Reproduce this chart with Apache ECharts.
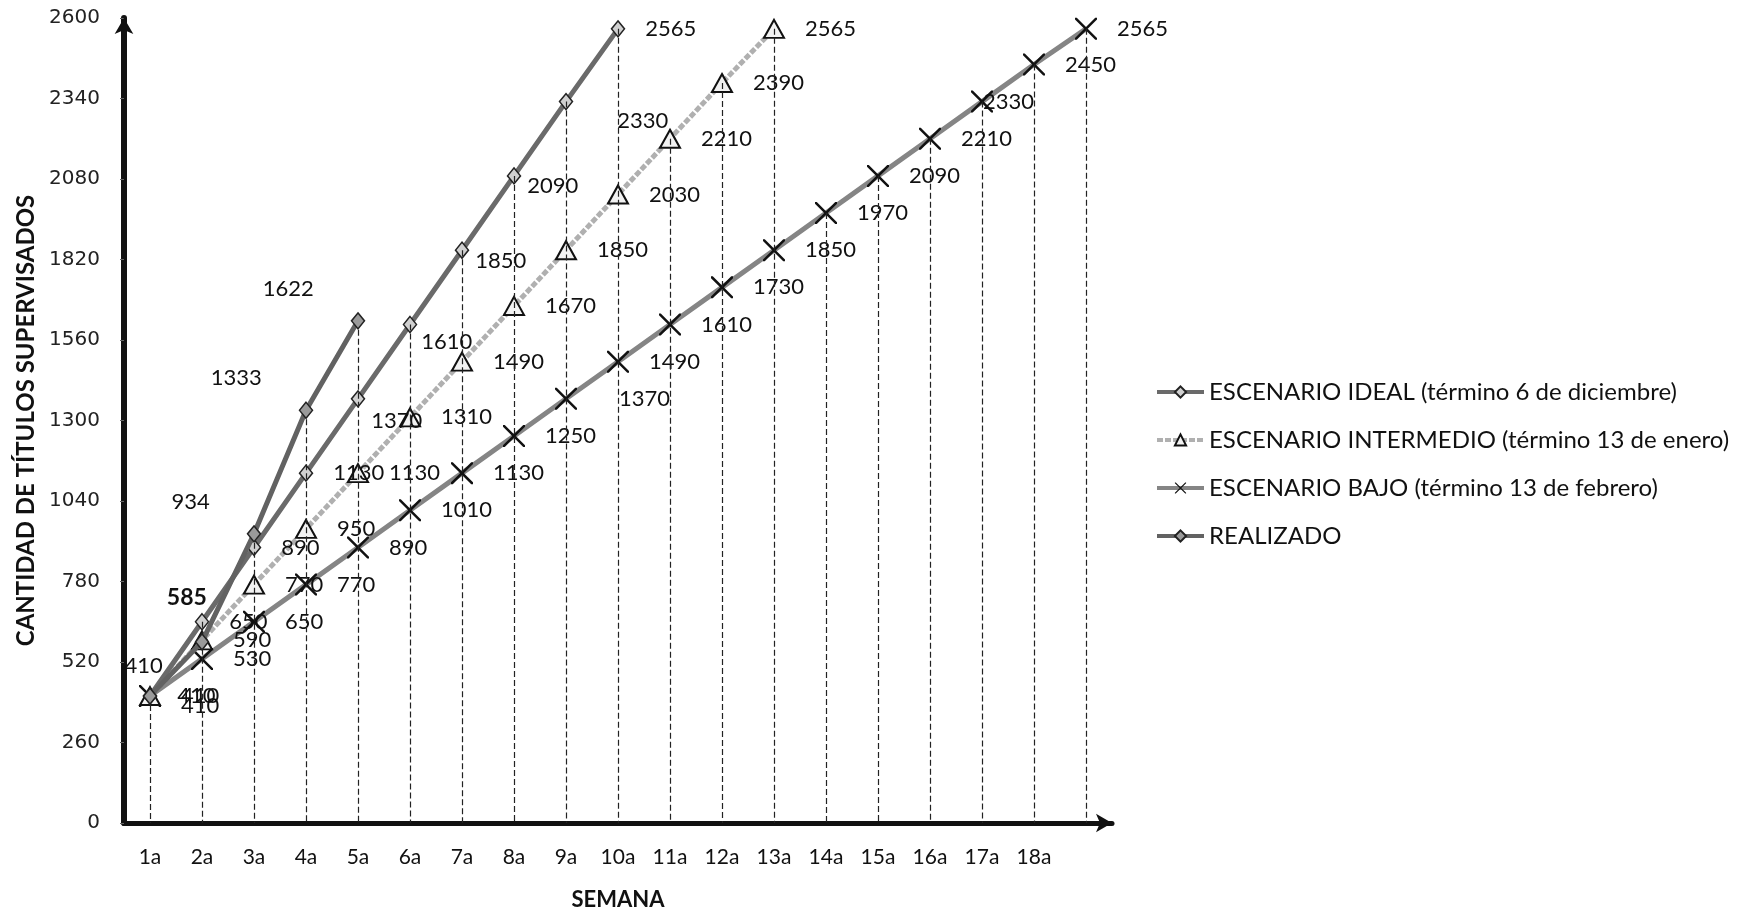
<!DOCTYPE html>
<html>
<head>
<meta charset="utf-8">
<script src="https://cdn.jsdelivr.net/npm/echarts@6/dist/echarts.min.js"></script>
<style>
html,body{margin:0;padding:0;background:#fff;}
#chart{width:1741px;height:910px;}
</style>
</head>
<body>
<div id="chart"></div>
<script>
const categories = ['1a','2a','3a','4a','5a','6a','7a','8a','9a','10a','11a','12a','13a','14a','15a','16a','17a','18a',''];
const yTicks = { min: 0, max: 2600, interval: 260 };
const seriesNames = [
  'ESCENARIO IDEAL (término 6 de diciembre)',
  'ESCENARIO INTERMEDIO (término 13 de enero)',
  'ESCENARIO BAJO (término 13 de febrero)',
  'REALIZADO'
];
const ideal = [410, 650, 890, 1130, 1370, 1610, 1850, 2090, 2330, 2565];
const intermedio = [410, 590, 770, 950, 1130, 1310, 1490, 1670, 1850, 2030, 2210, 2390, 2565];
const bajo = [410, 530, 650, 770, 890, 1010, 1130, 1250, 1370, 1490, 1610, 1730, 1850, 1970, 2090, 2210, 2330, 2450, 2565];
const realizado = [410, 585, 934, 1333, 1622];

// label nudges (style only, in px) keyed by point index
const idealLabelNudge = { 4: [-14, 22], 5: [-16, 17], 6: [-14, 11], 7: [-14, 10], 8: [24, 19] };
const bajoLabelNudge = { 8: [22, 0], 16: [-30, 0] };
const intermedioLabelNudge = { 0: [0, 10] };

const LABEL_FONT = 'Lato';
const xPath = 'path://M0,0 L0.8,0 L10,9.2 L10,10 L9.2,10 L0,0.8 Z M9.2,0 L10,0 L10,0.8 L0.8,10 L0,10 L0,9.2 Z';

const allSeries = [ideal, intermedio, bajo, realizado];
const dropTops = categories.map((c, i) => {
  let m = null;
  allSeries.forEach(s => { if (i < s.length && (m === null || s[i] > m)) m = s[i]; });
  return m;
});

function withNudges(values, nudges) {
  return values.map((v, i) => nudges[i] ? { value: v, label: { offset: nudges[i] } } : v);
}

const baseLabel = {
  show: true,
  position: 'right',
  distance: 20,
  fontFamily: LABEL_FONT,
  fontSize: 22,
  color: '#111'
};

const realizadoData = realizado.map((v, i) => {
  const d = { value: v };
  if (i === 0) d.label = { offset: [57, -30] };
  if (i === 1) d.label = { offset: [49, -44], fontWeight: 'bold', fontSize: 23 };
  return d;
});

const chart = echarts.init(document.getElementById('chart'), null, { renderer: 'canvas' });
chart.setOption({
  animation: false,
  backgroundColor: '#fff',
  grid: { left: 124, right: 629, top: 18, bottom: 87, containLabel: false, outerBoundsMode: 'none' },
  legend: {
    orient: 'vertical',
    left: 1150,
    top: 375,
    itemWidth: 47,
    itemHeight: 14,
    itemGap: 24,
    itemTextGap: 4,
    lineStyle: { width: 4 },
    textStyle: { fontFamily: LABEL_FONT, fontSize: 24, color: '#111' },
    data: seriesNames
  },
  xAxis: {
    type: 'category',
    data: categories,
    boundaryGap: true,
    name: 'SEMANA',
    nameLocation: 'middle',
    nameGap: 66,
    nameTextStyle: { fontFamily: LABEL_FONT, fontSize: 22, fontWeight: 'bold', color: '#111' },
    axisLine: { show: true, symbol: ['none', 'arrow'], symbolSize: [14, 16], lineStyle: { color: '#111', width: 5 } },
    axisTick: { show: false },
    axisLabel: { fontFamily: LABEL_FONT, fontSize: 21, color: '#111', margin: 24, interval: 0 },
    splitLine: { show: false }
  },
  yAxis: {
    type: 'value',
    min: yTicks.min,
    max: yTicks.max,
    interval: yTicks.interval,
    name: 'CANTIDAD DE TÍTULOS SUPERVISADOS',
    nameLocation: 'middle',
    nameGap: 82,
    nameRotate: 90,
    nameTextStyle: { fontFamily: LABEL_FONT, fontSize: 24, fontWeight: 'bold', color: '#111' },
    axisLine: { show: true, symbol: ['none', 'arrow'], symbolSize: [14, 16], lineStyle: { color: '#111', width: 6 } },
    axisTick: { show: true, length: 4, lineStyle: { color: '#666', width: 1 } },
    axisLabel: { fontFamily: 'DejaVu Sans', fontSize: 20, color: '#222', margin: 24, formatter: v => String(v) },
    splitLine: { show: false }
  },
  series: [
    {
      name: seriesNames[2],
      type: 'line',
      data: withNudges(bajo, bajoLabelNudge),
      symbol: xPath,
      symbolSize: 22,
      showAllSymbol: true,
      lineStyle: { color: '#858585', width: 5 },
      itemStyle: { color: '#111', borderWidth: 0 },
      label: Object.assign({}, baseLabel),
      markLine: {
        silent: true,
        symbol: ['none', 'none'],
        label: { show: false },
        animation: false,
        lineStyle: { color: '#222', width: 1.2, type: [6, 3] },
        data: dropTops.map((v, i) => [{ coord: [i, v] }, { coord: [i, 0] }])
      },
      z: 2
    },
    {
      name: seriesNames[1],
      type: 'line',
      data: withNudges(intermedio, intermedioLabelNudge),
      symbol: 'triangle',
      symbolSize: [20, 18],
      lineStyle: { color: '#b0b0b0', width: 5, type: [6, 2] },
      itemStyle: { color: '#f2f2f2', borderColor: '#111', borderWidth: 2 },
      label: Object.assign({}, baseLabel),
      z: 3
    },
    {
      name: seriesNames[0],
      type: 'line',
      data: withNudges(ideal, idealLabelNudge),
      symbol: 'diamond',
      symbolSize: [13, 16],
      lineStyle: { color: '#6a6a6a', width: 5 },
      itemStyle: { color: '#d0d0d0', borderColor: '#222', borderWidth: 1.5 },
      label: Object.assign({}, baseLabel),
      z: 4
    },
    {
      name: seriesNames[3],
      type: 'line',
      data: realizadoData,
      symbol: 'diamond',
      symbolSize: [13, 16],
      lineStyle: { color: '#626262', width: 5 },
      itemStyle: { color: '#9a9a9a', borderColor: '#222', borderWidth: 1.5 },
      label: Object.assign({}, baseLabel, { position: 'left', distance: 37, offset: [0, -32] }),
      z: 5
    }
  ]
});
</script>
</body>
</html>
